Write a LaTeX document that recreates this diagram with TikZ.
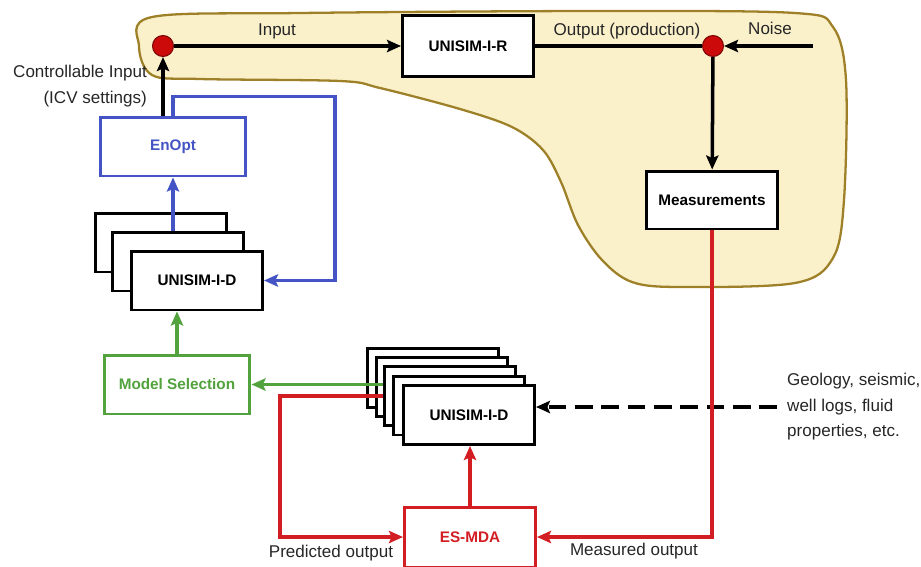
\documentclass[tikz,border=0pt]{standalone}
\usepackage{fontspec}
\setmainfont{Liberation Sans}
\usetikzlibrary{arrows.meta, positioning, calc}
\definecolor{blobfill}{RGB}{250, 241, 203}
\definecolor{blobdraw}{RGB}{158, 128, 40}
\definecolor{optblue}{RGB}{68, 84, 196}
\definecolor{selgreen}{RGB}{82, 162, 62}
\definecolor{histred}{RGB}{210, 30, 35}
\definecolor{dotred}{RGB}{205, 10, 10}

\begin{document}
\begin{tikzpicture}[
    x=0.02cm, y=-0.02cm,
    block/.style={rectangle, draw, line width=1.7pt, fill=white, minimum width=2.62cm, minimum height=1.18cm, align=center, font=\fontsize{8.7}{10}\selectfont\bfseries},
    wide/.style={block, minimum width=2.92cm},
    dot/.style={circle, fill=dotred, draw=dotred!60!black, line width=0.6pt, minimum size=0.42cm, inner sep=0pt},
    lbl/.style={font=\fontsize{9.7}{14.5}\selectfont, text=black!85},
    conn/.style={draw, line width=2pt, -{Stealth[length=8pt, width=7pt, inset=1.5pt]}},
    plain/.style={draw, line width=2pt}
  ]
    \useasboundingbox (0,0) rectangle (921,566);

    % real field
    \draw[blobdraw, fill=blobfill, line width=1.3pt] plot[smooth cycle, tension=0.55] coordinates {
      (139,46) (152,17) (300,13) (600,11) (795,13) (833,27) (846,80) (844,200) (833,258)
      (795,283) (680,287) (632,282) (602,260) (578,225) (561,182) (543,150) (512,127)
      (460,109) (380,88) (340,81) (200,79) (152,75)};

    \node[dot] (din) at (163,46) {};
    \node[block, minimum height=1.22cm] (rmod) at (468,46) {UNISIM-I-R};
    \node[dot] (dout) at (713,46) {};
    \coordinate (noise) at (813,46);
    \node[block, minimum height=1.16cm] (meas) at (712,200) {Measurements};

    \node[wide, draw=optblue, text=optblue] (enopt) at (173,146.5) {EnOpt};

    % deterministic model ensemble (top)
    \node[block] (ud2) at (161,242.5) {};
    \node[block] (ud1) at (178,261.5) {};
    \node[block] (ud) at (197,280.5) {UNISIM-I-D};

    \node[wide, draw=selgreen, text=selgreen] (modsel) at (177,384.5) {Model Selection};

    % prior ensemble (bottom)
    \node[block] (ld4) at (433,378) {};
    \node[block] (ld3) at (442,387) {};
    \node[block] (ld2) at (450,396) {};
    \node[block] (ld1) at (459,405.5) {};
    \node[block] (ld) at (469,415) {UNISIM-I-D};

    \node[block, minimum height=1.2cm, draw=histred, text=histred] (esmda) at (470,537) {ES-MDA};

    \coordinate (loop) at (335,280.5);
    \coordinate (pred) at (280,537);
    \coordinate (prior) at (777,407);

    \path[conn] (din) -- (rmod);
    \path[plain] (rmod) -- (dout);
    \path[conn] (noise) -- (dout);
    \path[conn] (dout) -- (meas);

    \path[conn] (enopt.north -| din) -- (din);
    \path[conn, draw=optblue] (enopt.north) -- ++(0,-19) -| (loop) -- (ud.east);
    \path[conn, draw=optblue] (enopt.south |- ud1.north) -- (enopt.south);
    \path[conn, draw=selgreen] (modsel.north) -- (modsel.north |- ud.south);

    \path[conn, draw=selgreen] (modsel.east -| ld2.west) -- (modsel.east);
    \path[conn, draw=histred] (ld2.west) -| (pred) -- (esmda.west);
    \path[conn, draw=histred] (esmda.north) -- (esmda.north |- ld.south);
    \path[conn, dash pattern=on 10pt off 5pt] (prior) -- (prior -| ld.east);
    \path[conn, draw=histred] (meas.south) |- (esmda.east);

    \node[lbl] (linput) at (277,31) {Input};
    \node[lbl] (loutput) at (627,31) {Output (production)};
    \node[lbl] (lnoise) at (770,28) {Noise};
    \node[lbl, align=right, anchor=east] (lctrl) at (153,86) {Controllable Input\\(ICV settings)};
    \node[lbl, align=left, anchor=west] (lgeo) at (781,407) {Geology, seismic,\\well logs, fluid\\properties, etc.};
    \node[lbl] (lpred) at (331,553) {Predicted output};
    \node[lbl] (lmeas) at (634,551) {Measured output};
  \end{tikzpicture}
\end{document}
